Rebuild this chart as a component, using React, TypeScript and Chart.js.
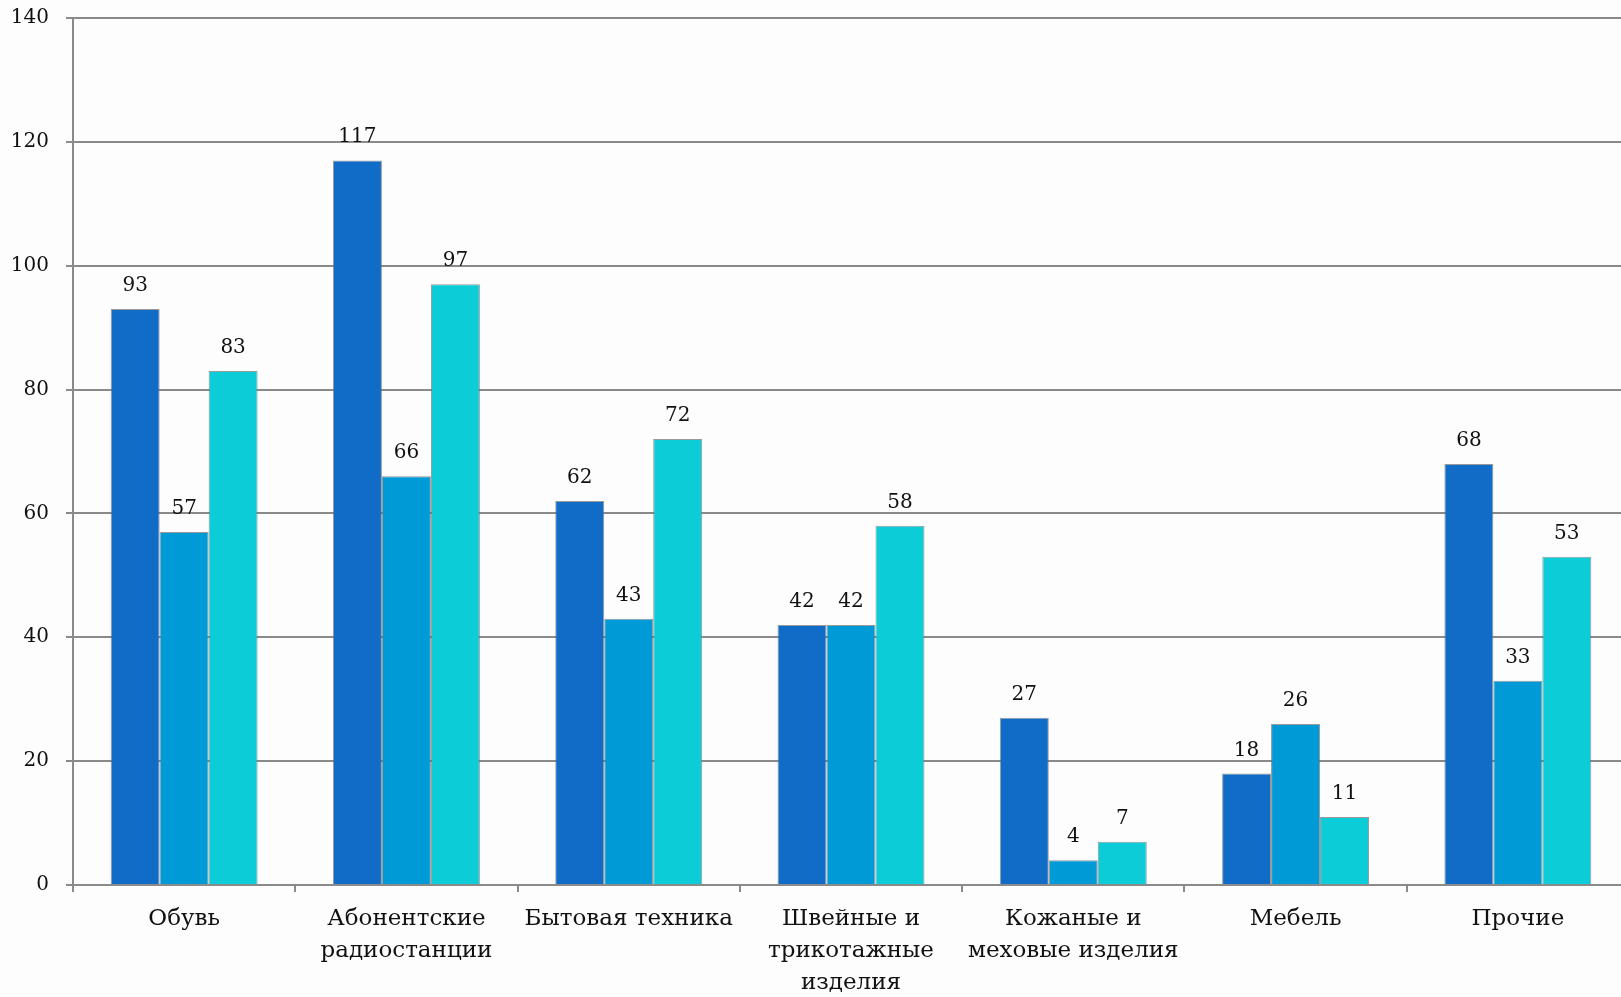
import React, { useEffect, useRef } from "react";
import { Chart, registerables } from "chart.js";

Chart.register(...registerables);

const categories: (string | string[])[] = [
  "Обувь",
  ["Абонентские", "радиостанции"],
  "Бытовая техника",
  ["Швейные и", "трикотажные", "изделия"],
  ["Кожаные и", "меховые изделия"],
  "Мебель",
  "Прочие",
];
const series1 = [93, 117, 62, 42, 27, 18, 68];
const series2 = [57, 66, 43, 42, 4, 26, 33];
const series3 = [83, 97, 72, 58, 7, 11, 53];
const yTicks = [0, 20, 40, 60, 80, 100, 120, 140];

const FONT = "'DejaVu Serif', 'Liberation Serif', serif";
const GRID = "#8a8a8a";

const extrasPlugin = {
  id: "extras",
  beforeDraw(chart: any) {
    const { ctx, width, height } = chart;
    ctx.save();
    ctx.fillStyle = "#fdfdfd";
    ctx.fillRect(0, 0, width, height);
    ctx.restore();
  },
  afterDatasetsDraw(chart: any) {
    const { ctx } = chart;
    ctx.save();
    ctx.fillStyle = "#111";
    ctx.font = `20px ${FONT}`;
    ctx.textAlign = "center";
    ctx.textBaseline = "alphabetic";
    chart.data.datasets.forEach((ds: any, i: number) => {
      const meta = chart.getDatasetMeta(i);
      meta.data.forEach((bar: any, j: number) => {
        ctx.fillText(String(ds.data[j]), bar.x, bar.y - 18);
      });
    });
    ctx.restore();
  },
};

export default function App() {
  const ref = useRef<HTMLCanvasElement | null>(null);

  useEffect(() => {
    document.body.style.margin = "0";
    const el = ref.current;
    if (!el) return;
    const border = "rgba(110,110,110,0.7)";
    const chart = new Chart(el, {
      type: "bar",
      data: {
        labels: categories as any,
        datasets: [
          { label: "1", data: series1, backgroundColor: "#106cc6", borderColor: border, borderWidth: 1 },
          { label: "2", data: series2, backgroundColor: "#009bd7", borderColor: border, borderWidth: 1 },
          { label: "3", data: series3, backgroundColor: "#0ccdd7", borderColor: border, borderWidth: 1 },
        ],
      },
      options: {
        animation: false,
        responsive: true,
        maintainAspectRatio: false,
        devicePixelRatio: 1,
        layout: { padding: { top: 18, right: 11, left: 0, bottom: 0 } },
        datasets: { bar: { categoryPercentage: 0.661, barPercentage: 1 } },
        plugins: {
          legend: { display: false },
          tooltip: { enabled: false },
        },
        scales: {
          x: {
            grid: {
              offset: true,
              drawOnChartArea: false,
              drawTicks: true,
              tickLength: 7,
              color: GRID,
              lineWidth: 2,
            },
            border: { display: true, color: GRID, width: 2 },
            ticks: {
              color: "#111",
              font: { family: FONT, size: 23, lineHeight: 1.39 },
              padding: 11,
              maxRotation: 0,
              autoSkip: false,
            },
            afterFit: (s: any) => {
              s.height = 112;
              s.paddingLeft = 0;
              s.paddingRight = 0;
            },
          },
          y: {
            min: 0,
            max: 140,
            afterBuildTicks: (s: any) => {
              s.ticks = yTicks.map((v) => ({ value: v }));
            },
            grid: {
              drawOnChartArea: true,
              drawTicks: true,
              tickLength: 7,
              color: GRID,
              lineWidth: 2,
            },
            border: { display: true, color: GRID, width: 2 },
            ticks: {
              color: "#111",
              font: { family: FONT, size: 20 },
              padding: 17,
            },
            afterFit: (s: any) => {
              s.width = 73;
              s.paddingTop = 0;
              s.paddingBottom = 0;
            },
          },
        },
      },
      plugins: [extrasPlugin],
    });
    return () => chart.destroy();
  }, []);

  return (
    <div
      style={{
        position: "absolute",
        left: 0,
        top: 0,
        width: 1621,
        height: 997,
        overflow: "hidden",
        background: "#fdfdfd",
      }}
    >
      <div style={{ position: "absolute", left: 0, top: 0, width: 1640, height: 997 }}>
        <canvas ref={ref} />
      </div>
    </div>
  );
}
